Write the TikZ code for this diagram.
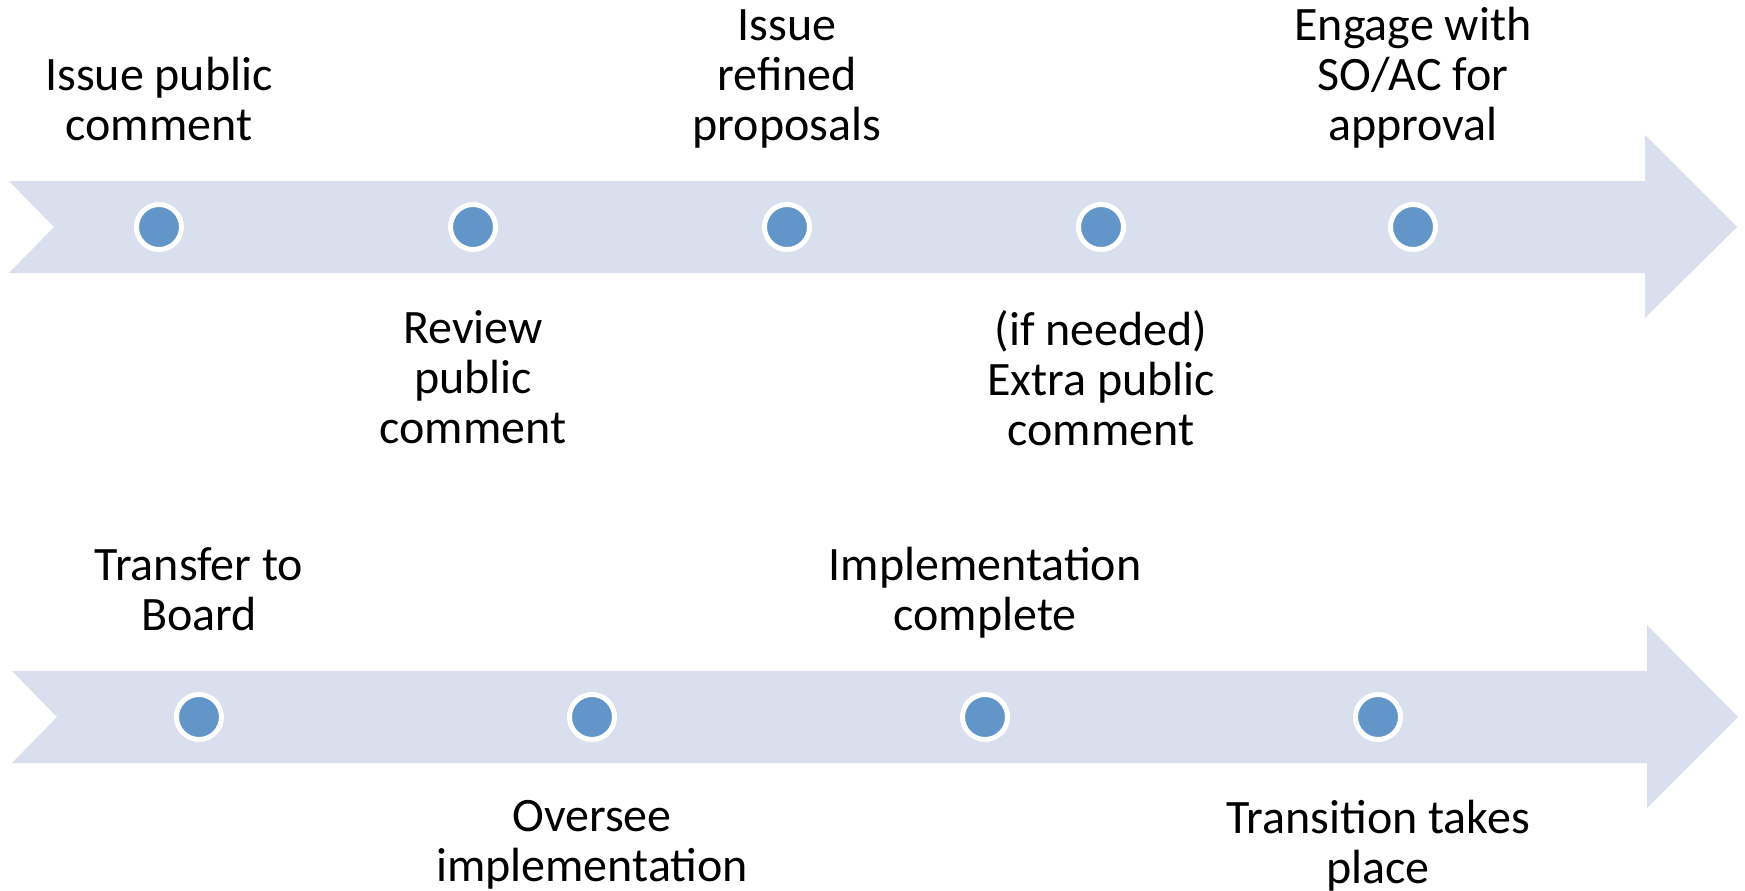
\documentclass[tikz,border=0pt]{standalone}
\usepackage{fontspec}
\setmainfont{Carlito}
\usetikzlibrary{calc}
\definecolor{bandblue}{RGB}{217,223,236}
\definecolor{dotblue}{RGB}{98,150,200}
\tikzset{
    dot/.style={circle, fill=dotblue, draw=white, line width=5pt, minimum size=45pt, inner sep=0pt},
    lbl/.style={align=center, inner sep=0pt, font=\fontsize{48}{50}\selectfont},
}

\begin{document}
\begin{tikzpicture}[x=1pt,y=-1pt]
                \useasboundingbox (0,0) rectangle (1745,891);
                % upper arrow
                \fill[bandblue] (9,181) -- (1645,181) -- (1645,135) -- (1737,227)
                    -- (1645,318) -- (1645,273) -- (9,273) -- (54,227) -- cycle;
                % lower arrow
                \fill[bandblue] (12,671) -- (1647,671) -- (1647,625) -- (1738,717)
                    -- (1647,808) -- (1647,763) -- (12,763) -- (57,717) -- cycle;
                \foreach \n/\x in {1/159,2/473,3/787,4/1101,5/1413}
                    \node[dot] (t\n) at (\x,227) {};
                \foreach \n/\x in {1/199,2/592,3/985,4/1378}
                    \node[dot] (b\n) at (\x,717) {};
                \node[lbl, anchor=base] (lt1) at ($(t1)+(0,-87)$) {Issue public\\comment};
                \node[lbl, anchor=north] (lt2) at ($(t2)+(0,83)$) {Review\\public\\comment};
                \node[lbl, anchor=base] (lt3) at ($(t3)+(0,-87)$) {Issue\\refined\\proposals};
                \node[lbl, anchor=north] (lt4) at ($(t4)+(0,83)$) {(if needed)\\Extra public\\comment};
                \node[lbl, anchor=base] (lt5) at ($(t5)+(0,-87)$) {Engage with\\SO/AC for\\approval};
                \node[lbl, anchor=base] (lb1) at ($(b1)+(0,-87)$) {Transfer to\\Board};
                \node[lbl, anchor=north] (lb2) at ($(b2)+(0,83)$) {Oversee\\implementation};
                \node[lbl, anchor=base] (lb3) at ($(b3)+(0,-87)$) {Implementation\\complete};
                \node[lbl, anchor=north] (lb4) at ($(b4)+(0,83)$) {Transition takes\\place};
\end{tikzpicture}
\end{document}
